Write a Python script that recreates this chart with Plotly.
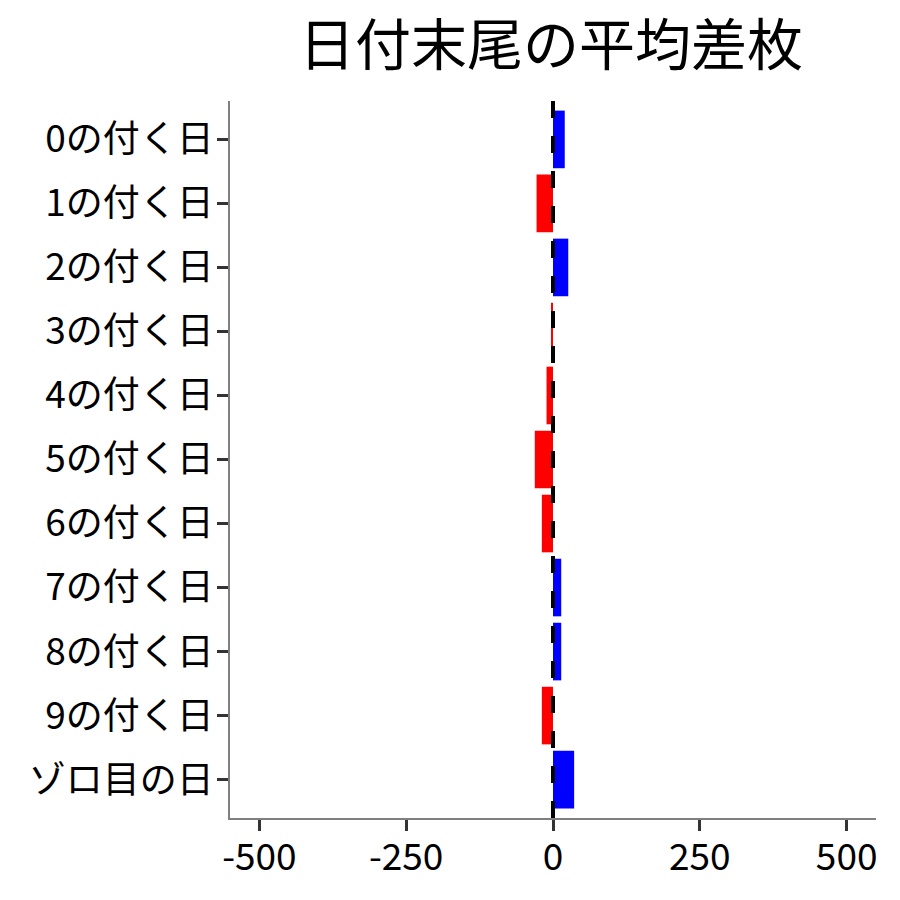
import plotly.graph_objects as go

# データ
labels = ['0の付く日', '1の付く日', '2の付く日', '3の付く日', '4の付く日',
          '5の付く日', '6の付く日', '7の付く日', '8の付く日', '9の付く日',
          'ゾロ目の日']
avg_diff = [20, -28, 26, -2, -11, -31, -19, 14, 14, -19, 36]
x_ticks = [-500, -250, 0, 250, 500]

font_name = 'Noto Sans CJK JP'
colors = ['#0000FF' if v > 0 else '#FF0000' for v in avg_diff]

fig = go.Figure()

fig.add_trace(go.Bar(
    x=avg_diff,
    y=labels,
    orientation='h',
    width=0.9,
    marker=dict(color=colors, line=dict(width=0)),
    showlegend=False
))

# 0 の位置に破線
fig.add_vline(x=0, line=dict(color='black', width=4, dash='17px,18px'))

fig.update_layout(
    width=900, height=900,
    margin=dict(l=222, r=32, t=93, b=90),
    paper_bgcolor='white',
    plot_bgcolor='white',
    font=dict(family=font_name, size=37, color='black'),
    title=dict(text='日付末尾の平均差枚', x=543 / 900, xanchor='center',
               y=0.959, yanchor='middle', font=dict(size=56, color='black')),
)

fig.update_xaxes(
    range=[-550, 550],
    tickvals=x_ticks,
    ticktext=[str(t) for t in x_ticks],
    showgrid=False, zeroline=False,
    showline=True, linecolor='#7f7f7f', linewidth=1.5,
    ticks='outside', ticklen=11, tickwidth=3, tickcolor='#333333',
    tickfont=dict(size=37, color='black'),
    ticklabelstandoff=-5,
)
fig.update_yaxes(
    categoryorder='array', categoryarray=labels,
    range=[len(labels) - 0.4, -0.6],
    showgrid=False, zeroline=False,
    showline=True, linecolor='#7f7f7f', linewidth=1.5,
    ticks='outside', ticklen=11, tickwidth=3, tickcolor='#333333',
    tickfont=dict(size=37, color='black'),
    ticklabelstandoff=-4,
)

fig.write_html('out.html')
